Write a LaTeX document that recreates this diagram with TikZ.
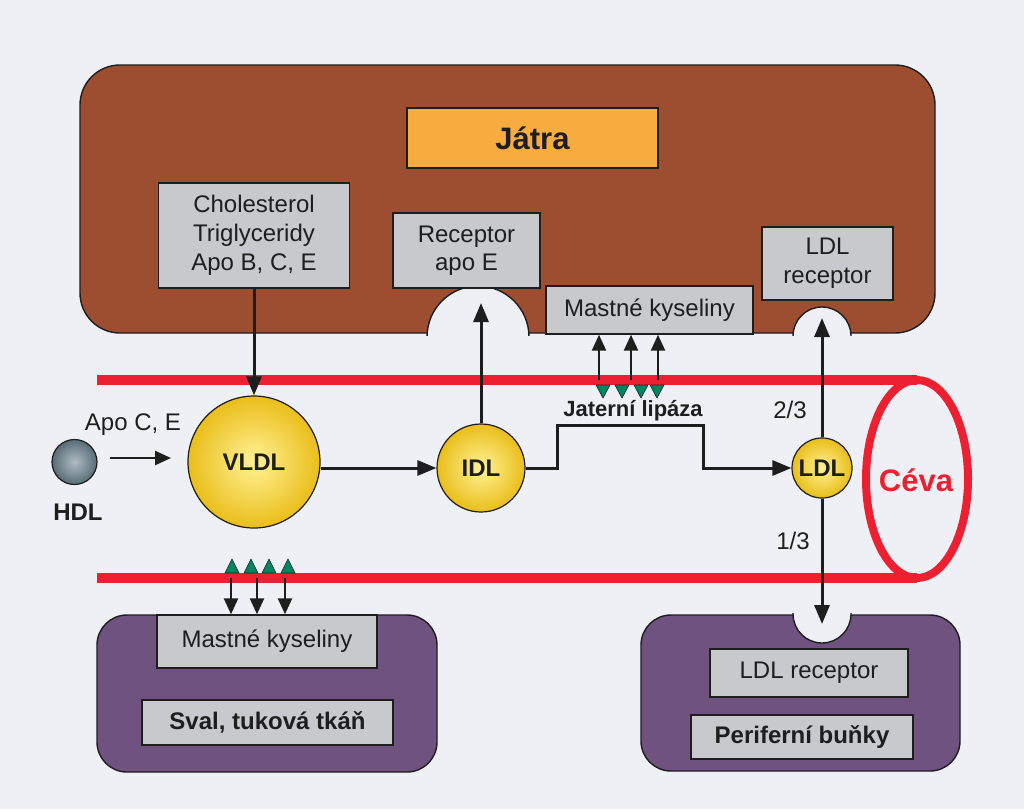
\documentclass[tikz,border=0pt]{standalone}
\usepackage{fontspec}
\setmainfont{Liberation Sans}
\usetikzlibrary{arrows.meta}

\definecolor{paper}{RGB}{239,240,245}
\definecolor{ink}{RGB}{30,30,30}
\definecolor{liverbrown}{RGB}{158,78,48}
\definecolor{jatraorange}{RGB}{246,172,62}
\definecolor{boxgrey}{RGB}{200,201,205}
\definecolor{tissuepurple}{RGB}{112,82,128}
\definecolor{vesselred}{RGB}{236,32,48}
\definecolor{enzgreen}{RGB}{0,135,95}
\definecolor{lipolight}{RGB}{255,242,150}
\definecolor{lipodark}{RGB}{234,190,26}
\definecolor{hdllight}{RGB}{175,188,194}
\definecolor{hdldark}{RGB}{88,108,118}

\newcommand{\txt}{\fontsize{24}{29}\selectfont}

\begin{document}
\begin{tikzpicture}[
  x=1pt, y=-1pt,
  every node/.style={inner sep=0pt, text=ink, font=\txt},
  organ/.style={draw=ink, line width=1.4pt, rounded corners=#1},
  box/.style={draw=ink, line width=1.4pt, fill=boxgrey, align=center},
  lipo/.style={circle, draw=ink, line width=1.2pt, inner color=lipolight,
    outer color=lipodark, font=\txt\bfseries},
  arr/.style={draw=ink, line width=3pt, -{Triangle[length=19pt,width=15pt]}},
  thinarr/.style={arr, line width=2.4pt, -{Triangle[length=16pt,width=14pt]}},
  vessel/.style={draw=vesselred, line width=10pt},
  enzyme/.style={fill=enzgreen, draw=ink, line width=.6pt, line join=round},
  notch/.style={fill=paper, draw=ink, line width=1.4pt}
  ]
  \useasboundingbox (0,0) rectangle (1024,809);
  \fill[paper] (0,0) rectangle (1024,809);

  \draw[vessel] (97,380) -- (917,380);
  \draw[vessel] (97,578) -- (917,578);
  \draw[draw=vesselred, line width=8pt] (917,479) ellipse[x radius=51, y radius=99];

  \node[organ=40pt, fill=liverbrown, minimum width=855pt, minimum height=268pt] (liver) at (507.5,199) {};
  \begin{scope}
    \clip (0,0) rectangle (1024,335.5);
    \draw[notch] (478,337) circle[radius=51];
    \draw[notch] (822,336) circle[radius=29];
  \end{scope}

  \node[box, fill=jatraorange, minimum width=251pt, minimum height=60pt,
    font=\fontsize{31}{31}\selectfont\bfseries] (jatra) at (532.5,138) {Játra};
  \node[box, minimum width=191pt, minimum height=105pt] (chol) at (254,235.5)
    {Cholesterol\\Triglyceridy\\Apo B, C, E};
  \node[box, minimum width=147pt, minimum height=75pt, font=\fontsize{24}{28}\selectfont] (rece) at (466.5,250.5)
    {Receptor\\apo E};
  \node[box, minimum width=207pt, minimum height=48pt] (mktop) at (649.5,310) {Mastné kyseliny};
  \node[box, minimum width=131pt, minimum height=73pt] (ldlrtop) at (827.5,263.5)
    {LDL\\receptor};

  \node[organ=30pt, fill=tissuepurple, minimum width=340pt, minimum height=157pt] (muscle) at (267,693.5) {};
  \node[box, minimum width=220pt, minimum height=53pt] (mkbot) at (267,641.5) {Mastné kyseliny};
  \node[box, minimum width=251pt, minimum height=45pt, font=\txt\bfseries] (sval) at (267.5,722.5)
    {Sval, tuková tkáň};

  \node[organ=30pt, fill=tissuepurple, minimum width=319pt, minimum height=156pt] (cells) at (800.5,693) {};
  \begin{scope}
    \clip (0,613.5) rectangle (1024,809);
    \draw[notch] (822,614) circle[radius=29];
  \end{scope}
  \node[box, minimum width=198pt, minimum height=48pt] (ldlrbot) at (809,673) {LDL receptor};
  \node[box, minimum width=222pt, minimum height=44pt, font=\txt\bfseries] (periph) at (802,737)
    {Periferní buňky};

  \node[circle, draw=ink, line width=1.2pt, inner color=hdllight, outer color=hdldark,
    minimum size=45pt] (hdl) at (74.5,462) {};
  \node[font=\txt\bfseries] (hdllabel) at (78,512) {HDL};
  \node (apo) at (133,425) {Apo C, E};
  \node[lipo, minimum size=132pt] (vldl) at (254,462) {VLDL};
  \node[lipo, minimum size=88pt] (idl) at (481,468) {IDL};
  \node[lipo, minimum size=60pt] (ldl) at (822,468) {LDL};
  \node[text=vesselred, font=\fontsize{31}{31}\selectfont\bfseries] (ceva) at (916,480) {Céva};
  \node[font=\fontsize{22}{22}\selectfont\bfseries] (lipaza) at (633,411) {Jaterní lipáza};
  \node (twothirds) at (790,410) {2/3};
  \node (onethird) at (793,541) {1/3};

  \coordinate (apostart) at (110,458);
  \coordinate (apoend) at (171,458);
  \coordinate (idltip) at (481,303);
  \coordinate (ldltop) at (822,318);
  \coordinate (ldlbot) at (822,624);

  \draw[thinarr] (apostart) -- (apoend);
  \draw[arr] (chol.south) -- (vldl.north);
  \draw[arr] (vldl.east |- idl.west) -- (idl.west);
  \draw[arr] (idl.north) -- (idltip);
  \draw[arr] (idl.east) -- (557,468) -- (557,425) -- (703,425) -- (703,468) -- (ldl.west);
  \draw[arr] (ldl.north) -- (ldltop);
  \draw[arr] (ldl.south) -- (ldlbot);

  \foreach \x in {599,631,658}
    \draw[thinarr] (\x,380) -- (\x,0 |- mktop.south);
  \foreach \x in {231,257,285}
    \draw[thinarr] (\x,578) -- (\x,0 |- mkbot.north);
  \foreach \x in {603,622,641,657}
    \draw[enzyme] (\x-7,385) -- (\x+7,385) -- (\x,398) -- cycle;
  \foreach \x in {232,251,269,288}
    \draw[enzyme] (\x-7,573) -- (\x+7,573) -- (\x,559) -- cycle;
\end{tikzpicture}
\end{document}
